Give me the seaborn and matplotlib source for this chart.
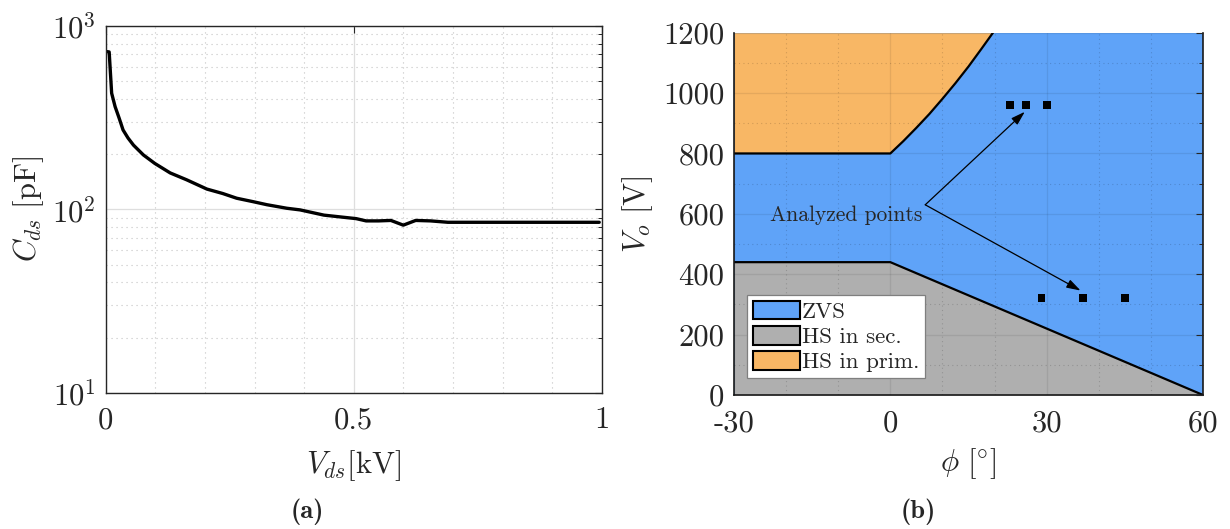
import matplotlib
matplotlib.use("Agg")
import matplotlib.pyplot as plt
import seaborn as sns
from matplotlib.patches import Patch
from matplotlib.ticker import FixedLocator, MultipleLocator, LogLocator, NullFormatter

# (a) Drain-source capacitance versus drain-source voltage
vds_kv = [0.002, 0.007, 0.012, 0.019, 0.027, 0.035, 0.045, 0.056, 0.076, 0.099,
          0.130, 0.163, 0.204, 0.236, 0.264, 0.298, 0.325, 0.365, 0.392, 0.440,
          0.480, 0.505, 0.525, 0.550, 0.575, 0.600, 0.625, 0.655, 0.690, 0.995]
cds_pf = [725, 722, 430, 363, 315, 271, 245, 224, 198, 178,
          158, 145, 129, 122, 115, 110, 106, 101.4, 99.3, 93,
          90.5, 89, 86.5, 86.5, 87, 82, 87, 86.5, 85, 85]

# (b) Switching regions in the phase-shift / output-voltage plane
prim_phi = [-30, 0, 2.5, 5, 7.5, 10, 12.5, 15, 17.5, 19.7]
prim_vo = [800, 800, 841, 885, 931, 981, 1033, 1088, 1147, 1200]
sec_phi = [-30, 0, 60]
sec_vo = [440, 440, 0]

# Operating points that were analysed
pts_phi = [23, 26, 30, 29, 37, 45]
pts_vo = [960, 960, 960, 320, 320, 320]

region_labels = ["ZVS", "HS in sec.", "HS in prim."]
region_colors = ["#5fa3f8", "#afafaf", "#f8b765"]

phi_ticks = [-30, 0, 30, 60]
phi_ticklabels = ["-30", "0", "30", "60"]
vo_ticks = [0, 200, 400, 600, 800, 1000, 1200]
vds_ticks = [0, 0.5, 1]
vds_ticklabels = ["0", "0.5", "1"]
cds_ticks = [10, 100, 1000]
cds_ticklabels = [r"$10^{1}$", r"$10^{2}$", r"$10^{3}$"]

sns.set_theme(style="white")
plt.rcParams.update({
    "font.family": ["cmr10", "DejaVu Serif"],
    "mathtext.fontset": "cm",
    "axes.unicode_minus": False,
    "axes.formatter.use_mathtext": True,
})

W, H = 1230, 529
fig = plt.figure(figsize=(W / 100, H / 100), dpi=100)
ax1 = fig.add_axes([105.7 / W, 1 - 392.7 / H, 496 / W, 366.7 / H])
ax2 = fig.add_axes([734 / W, 1 - 395 / H, 469 / W, 362.3 / H])

TICK_FS = 22
LABEL_FS = 22
spine_col = "#262626"

# ---------------- (a) ----------------
sns.lineplot(x=vds_kv, y=cds_pf, ax=ax1, color="black", linewidth=2.4)
ax1.set_yscale("log")
ax1.set_xlim(0, 1)
ax1.set_ylim(10, 1000)
ax1.xaxis.set_major_locator(FixedLocator(vds_ticks))
ax1.set_xticklabels(vds_ticklabels)
ax1.xaxis.set_minor_locator(MultipleLocator(0.1))
ax1.yaxis.set_major_locator(FixedLocator(cds_ticks))
ax1.set_yticklabels(cds_ticklabels)
ax1.yaxis.set_minor_locator(LogLocator(base=10, subs=range(2, 10)))
ax1.yaxis.set_minor_formatter(NullFormatter())
ax1.grid(which="major", color="#dedede", linewidth=0.9, linestyle="-")
ax1.grid(which="minor", color="#c4c4c4", linewidth=0.8, linestyle=(0, (1, 3.5)))
ax1.tick_params(which="both", direction="in", top=True, right=True,
                color=spine_col, labelsize=TICK_FS)
ax1.tick_params(axis="y", pad=7)
ax1.tick_params(axis="x", pad=10)
ax1.tick_params(which="major", length=5, width=0.8)
ax1.tick_params(which="minor", length=3, width=0.7)
ax1.tick_params(axis="x", which="minor", length=0)
for s in ax1.spines.values():
    s.set_color(spine_col)
    s.set_linewidth(1.0)
ax1.set_xlabel(r"$V_{ds}[\mathrm{kV}]$", fontsize=LABEL_FS, va="center")
ax1.xaxis.set_label_coords(0.5, -0.2)
ax1.set_ylabel(r"$C_{ds}\ [\mathrm{pF}]$", fontsize=LABEL_FS, va="center")
ax1.yaxis.set_label_coords(-0.155, 0.5)

# ---------------- (b) ----------------
ax2.fill_between([-30, 60], 0, 1200, color=region_colors[0], linewidth=0, zorder=0.8)
ax2.fill_between(sec_phi, 0, sec_vo, color=region_colors[1], linewidth=0, zorder=1)
ax2.fill_between(prim_phi, prim_vo, 1200, color=region_colors[2], linewidth=0, zorder=1)
sns.lineplot(x=sec_phi, y=sec_vo, ax=ax2, color="black", linewidth=1.6, zorder=2)
sns.lineplot(x=prim_phi, y=prim_vo, ax=ax2, color="black", linewidth=1.6, zorder=2)
sns.scatterplot(x=pts_phi, y=pts_vo, ax=ax2, marker="s", s=32, color="black",
                edgecolor="none", zorder=3)

arrow_kw = dict(arrowstyle="-|>,head_length=0.7,head_width=0.22", lw=0.9,
                color="black", shrinkA=0, shrinkB=0)
ax2.annotate("", xy=(25.8, 938), xytext=(6.7, 630), arrowprops=arrow_kw, zorder=4)
ax2.annotate("", xy=(36.5, 346), xytext=(6.7, 630), arrowprops=arrow_kw, zorder=4)
ax2.text(6.2, 594, "Analyzed points", ha="right", va="center", fontsize=15.5, zorder=4)

ax2.set_xlim(-30, 60)
ax2.set_ylim(0, 1200)
ax2.set_axisbelow(False)
ax2.xaxis.set_major_locator(FixedLocator(phi_ticks))
ax2.set_xticklabels(phi_ticklabels)
ax2.xaxis.set_minor_locator(MultipleLocator(10))
ax2.yaxis.set_major_locator(FixedLocator(vo_ticks))
ax2.set_yticklabels([str(v) for v in vo_ticks])
ax2.yaxis.set_minor_locator(MultipleLocator(100))
ax2.grid(which="major", color="black", alpha=0.08, linewidth=0.9, linestyle="-")
ax2.grid(which="minor", color="black", alpha=0.16, linewidth=0.8, linestyle=(0, (1, 3)))
ax2.tick_params(which="both", direction="in", top=False, right=True,
                color=spine_col, labelsize=TICK_FS)
ax2.tick_params(axis="y", pad=7)
ax2.tick_params(axis="x", pad=11)
ax2.tick_params(which="major", length=5, width=0.8)
ax2.tick_params(which="minor", length=3, width=0.7)
ax2.spines["top"].set_visible(False)
for k in ("left", "bottom", "right"):
    ax2.spines[k].set_color("#1a1a1a")
    ax2.spines[k].set_linewidth(1.2)
ax2.set_xlabel(r"$\phi\ [^{\circ}]$", fontsize=LABEL_FS, va="center")
ax2.xaxis.set_label_coords(0.5, -0.188)
ax2.set_ylabel(r"$V_o\ [\mathrm{V}]$", fontsize=LABEL_FS, va="center")
ax2.yaxis.set_label_coords(-0.205, 0.5)

handles = [Patch(facecolor=c, edgecolor="black", linewidth=1.5) for c in region_colors]
leg = ax2.legend(handles, region_labels, loc="lower left", bbox_to_anchor=(0.028, 0.047),
                 borderaxespad=0, fontsize=16.5, handlelength=2.05, handleheight=0.87,
                 handletextpad=0.08, labelspacing=0.17, borderpad=0.25,
                 frameon=True, fancybox=False, framealpha=1, facecolor="white",
                 edgecolor="#7f7f7f")
leg.get_frame().set_linewidth(0.9)
leg.set_zorder(5)

fig.text(307 / W, 1 - 512 / H, "(a)", family="cmb10", fontsize=19, ha="center", va="center")
fig.text(918 / W, 1 - 512 / H, "(b)", family="cmb10", fontsize=19, ha="center", va="center")

fig.savefig("out.png", dpi=100)
